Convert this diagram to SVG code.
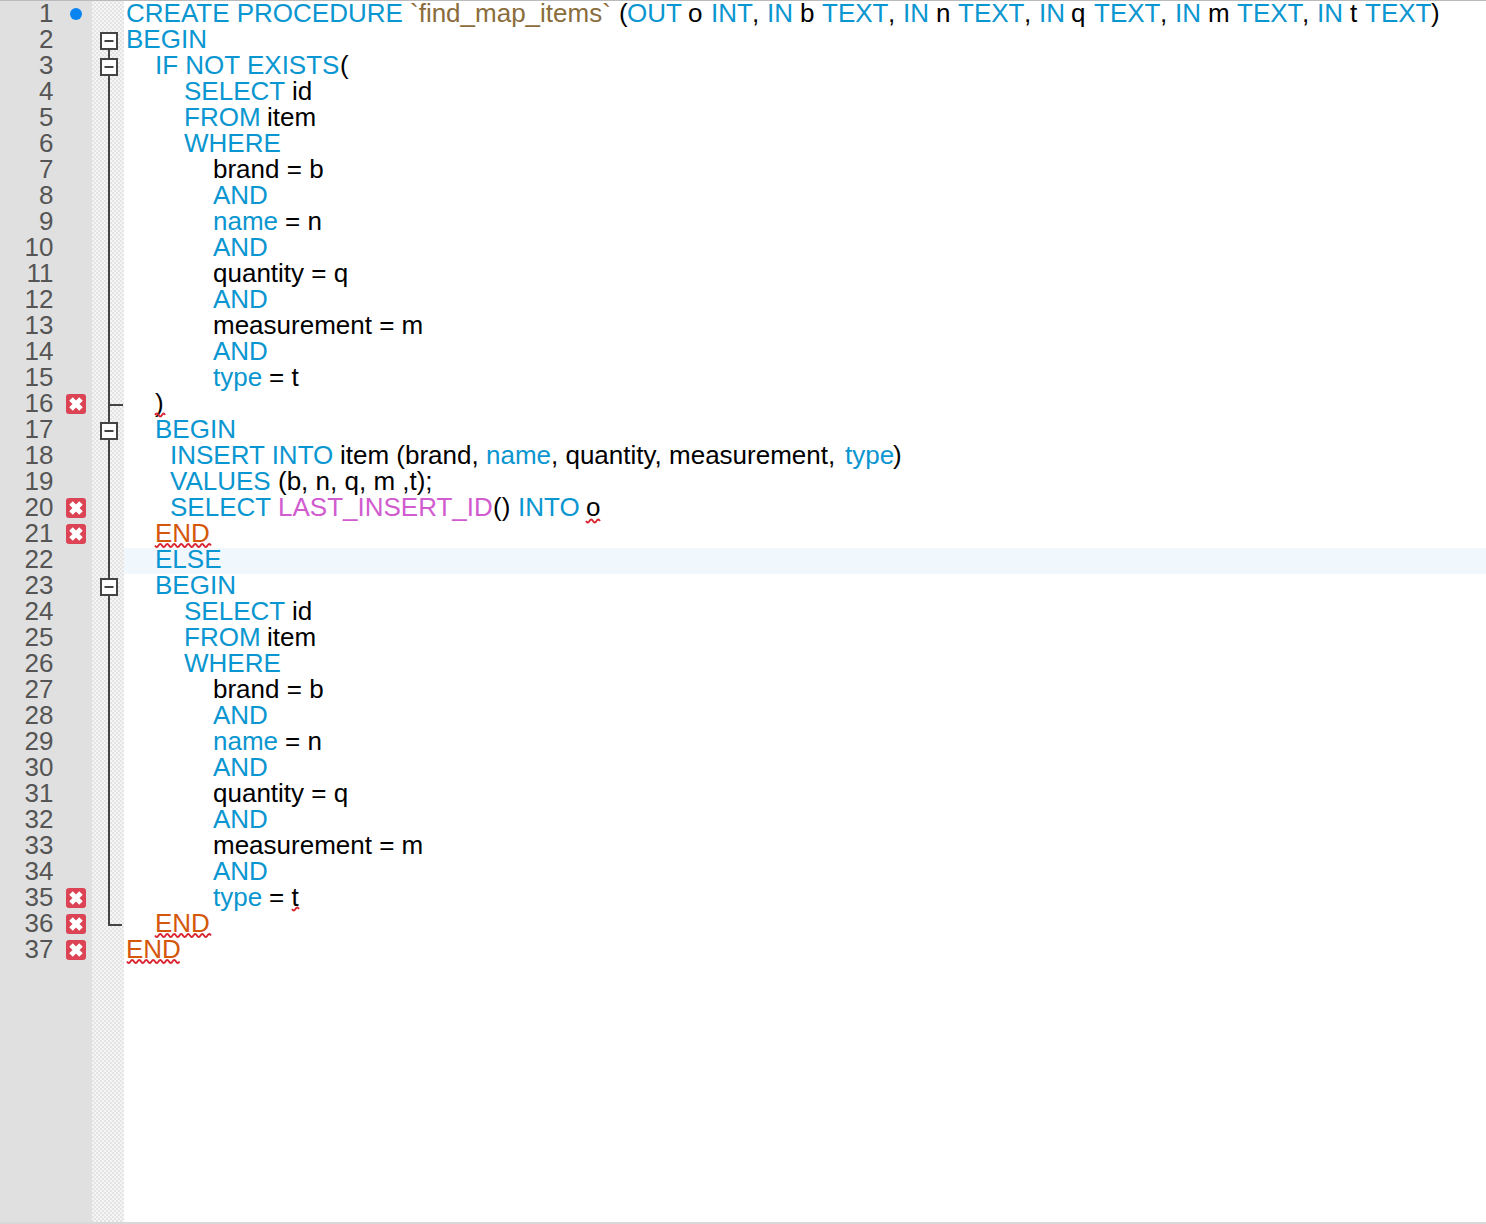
<svg xmlns="http://www.w3.org/2000/svg" width="1486" height="1224" viewBox="0 0 1486 1224">
<style>
text{font-family:"Liberation Sans",Arial,sans-serif;font-size:26px;white-space:pre;fill:#000}
.n{fill:#555;text-anchor:end}
.k{fill:#0a96d0}
.s{fill:#8a6d3b}
.f{fill:#d05ccf}
.e{fill:#d4570a}
.sq{fill:none;stroke:#d9232e;stroke-width:1.8}
.fold{fill:none;stroke:#444;stroke-width:2}
.box{fill:#fff;stroke:#444;stroke-width:2}
</style>
<defs>
<pattern id="chk" width="4" height="4" patternUnits="userSpaceOnUse">
<rect width="4" height="4" fill="#f5f5f5"/>
<rect width="2" height="2" fill="#e4e4e4"/>
<rect x="2" y="2" width="2" height="2" fill="#e4e4e4"/>
</pattern>
<g id="err">
<rect x="-10" y="-10" width="20" height="20" rx="3" fill="#dc4354"/>
<path d="M-5 -5L5 5M5 -5L-5 5" stroke="#fff" stroke-width="5"/>
</g>
<g id="minus">
<rect x="-8" y="-8" width="16" height="16" class="box"/>
<path d="M-4.500 0H4.500" stroke="#444" stroke-width="2"/>
</g>
</defs>
<rect width="1486" height="1224" fill="#fff"/>
<rect width="92" height="1224" fill="#e0e0e0"/>
<rect x="92" width="32" height="1222" fill="url(#chk)"/>
<rect x="124" y="548" width="1362" height="26" fill="#f0f8fe"/>
<rect width="1486" height="1" fill="#bbb"/>
<rect y="1222" width="1486" height="2" fill="#d8d8d8"/>

<g id="line-numbers">
<text class="n" x="53.500" y="22">1</text><text class="n" x="53.500" y="48">2</text><text class="n" x="53.500" y="74">3</text><text class="n" x="53.500" y="100">4</text><text class="n" x="53.500" y="126">5</text><text class="n" x="53.500" y="152">6</text><text class="n" x="53.500" y="178">7</text><text class="n" x="53.500" y="204">8</text><text class="n" x="53.500" y="230">9</text><text class="n" x="53.500" y="256">10</text><text class="n" x="53.500" y="282">11</text><text class="n" x="53.500" y="308">12</text><text class="n" x="53.500" y="334">13</text><text class="n" x="53.500" y="360">14</text><text class="n" x="53.500" y="386">15</text><text class="n" x="53.500" y="412">16</text><text class="n" x="53.500" y="438">17</text><text class="n" x="53.500" y="464">18</text><text class="n" x="53.500" y="490">19</text><text class="n" x="53.500" y="516">20</text><text class="n" x="53.500" y="542">21</text><text class="n" x="53.500" y="568">22</text><text class="n" x="53.500" y="594">23</text><text class="n" x="53.500" y="620">24</text><text class="n" x="53.500" y="646">25</text><text class="n" x="53.500" y="672">26</text><text class="n" x="53.500" y="698">27</text><text class="n" x="53.500" y="724">28</text><text class="n" x="53.500" y="750">29</text><text class="n" x="53.500" y="776">30</text><text class="n" x="53.500" y="802">31</text><text class="n" x="53.500" y="828">32</text><text class="n" x="53.500" y="854">33</text><text class="n" x="53.500" y="880">34</text><text class="n" x="53.500" y="906">35</text><text class="n" x="53.500" y="932">36</text><text class="n" x="53.500" y="958">37</text>
</g>

<g id="markers">
<circle cx="76" cy="14" r="6" fill="#0a84f0"/>
<use href="#err" x="76" y="404"/><use href="#err" x="76" y="508"/><use href="#err" x="76" y="534"/><use href="#err" x="76" y="898"/><use href="#err" x="76" y="924"/><use href="#err" x="76" y="950"/>
</g>

<g id="folds">
<path class="fold" d="M109 41V925H122M109 405H123"/>
<use href="#minus" x="109" y="41"/><use href="#minus" x="109" y="67"/><use href="#minus" x="109" y="431"/><use href="#minus" x="109" y="587"/>
</g>

<g id="code">
<text y="22"><tspan class="k" x="126">CREATE PROCEDURE</tspan><tspan class="s" x="410">`find_map_items`</tspan><tspan x="619">(</tspan><tspan class="k" x="627">OUT</tspan><tspan x="688">o</tspan><tspan class="k" x="711">INT</tspan><tspan x="752">,</tspan><tspan class="k" x="767">IN</tspan><tspan x="800">b</tspan><tspan class="k" x="822">TEXT</tspan><tspan x="888">,</tspan><tspan class="k" x="903">IN</tspan><tspan x="936">n</tspan><tspan class="k" x="958">TEXT</tspan><tspan x="1024">,</tspan><tspan class="k" x="1039">IN</tspan><tspan x="1071">q</tspan><tspan class="k" x="1094">TEXT</tspan><tspan x="1160">,</tspan><tspan class="k" x="1175">IN</tspan><tspan x="1208">m</tspan><tspan class="k" x="1237">TEXT</tspan><tspan x="1302">,</tspan><tspan class="k" x="1317">IN</tspan><tspan x="1350">t</tspan><tspan class="k" x="1365">TEXT</tspan><tspan x="1431">)</tspan></text>
<text y="48" x="126" class="k">BEGIN</text>
<text y="74"><tspan class="k" x="155">IF NOT EXISTS</tspan><tspan x="340">(</tspan></text>
<text y="100"><tspan class="k" x="184">SELECT</tspan><tspan x="292">id</tspan></text>
<text y="126"><tspan class="k" x="184">FROM</tspan><tspan x="267">item</tspan></text>
<text y="152" x="184" class="k">WHERE</text>
<text y="178" x="213">brand = b</text>
<text y="204" x="213" class="k">AND</text>
<text y="230"><tspan class="k" x="213">name</tspan><tspan x="285">= n</tspan></text>
<text y="256" x="213" class="k">AND</text>
<text y="282" x="213">quantity = q</text>
<text y="308" x="213" class="k">AND</text>
<text y="334" x="213">measurement = m</text>
<text y="360" x="213" class="k">AND</text>
<text y="386"><tspan class="k" x="213">type</tspan><tspan x="269">= t</tspan></text>
<text y="412" x="155">)</text>
<text y="438" x="155" class="k">BEGIN</text>
<text y="464"><tspan class="k" x="170">INSERT INTO</tspan><tspan x="340">item (brand,</tspan><tspan class="k" x="486">name</tspan><tspan x="551">, quantity, measurement,</tspan><tspan class="k" x="845">type</tspan><tspan x="893">)</tspan></text>
<text y="490"><tspan class="k" x="170">VALUES</tspan><tspan x="278">(b, n, q, m ,t);</tspan></text>
<text y="516"><tspan class="k" x="170">SELECT</tspan><tspan class="f" x="278">LAST_INSERT_ID</tspan><tspan x="493">()</tspan><tspan class="k" x="518">INTO</tspan><tspan x="586">o</tspan></text>
<text y="542" x="155" class="e">END</text>
<text y="568" x="155" class="k">ELSE</text>
<text y="594" x="155" class="k">BEGIN</text>
<text y="620"><tspan class="k" x="184">SELECT</tspan><tspan x="292">id</tspan></text>
<text y="646"><tspan class="k" x="184">FROM</tspan><tspan x="267">item</tspan></text>
<text y="672" x="184" class="k">WHERE</text>
<text y="698" x="213">brand = b</text>
<text y="724" x="213" class="k">AND</text>
<text y="750"><tspan class="k" x="213">name</tspan><tspan x="285">= n</tspan></text>
<text y="776" x="213" class="k">AND</text>
<text y="802" x="213">quantity = q</text>
<text y="828" x="213" class="k">AND</text>
<text y="854" x="213">measurement = m</text>
<text y="880" x="213" class="k">AND</text>
<text y="906"><tspan class="k" x="213">type</tspan><tspan x="269">= t</tspan></text>
<text y="932" x="155" class="e">END</text>
<text y="958" x="126" class="e">END</text>
</g>

<g id="squiggles">
<path class="sq" d="M155 415q1.750 -3 3.500 0t3.500 0 3 0"/>
<path class="sq" d="M155 545.500q1.750 3 3.500 0t3.500 0 3.500 0 3.500 0 3.500 0 3.500 0 3.500 0 3.500 0 3.500 0 3.500 0 3.500 0 3.500 0 3.500 0 3.500 0 3.500 0 3.500 0"/>
<path class="sq" d="M586 521q1.750 3 3.500 0t3.500 0 3.500 0 3.500 0"/>
<path class="sq" d="M292 909q1.750 3 3.500 0t3.500 0"/>
<path class="sq" d="M155 935.500q1.750 3 3.500 0t3.500 0 3.500 0 3.500 0 3.500 0 3.500 0 3.500 0 3.500 0 3.500 0 3.500 0 3.500 0 3.500 0 3.500 0 3.500 0 3.500 0 3.500 0"/>
<path class="sq" d="M127 961.500q1.750 3 3.500 0t3.500 0 3.500 0 3.500 0 3.500 0 3.500 0 3.500 0 3.500 0 3.500 0 3.500 0 3.500 0 3.500 0 3.500 0 3.500 0 3.500 0"/>
</g>
</svg>
